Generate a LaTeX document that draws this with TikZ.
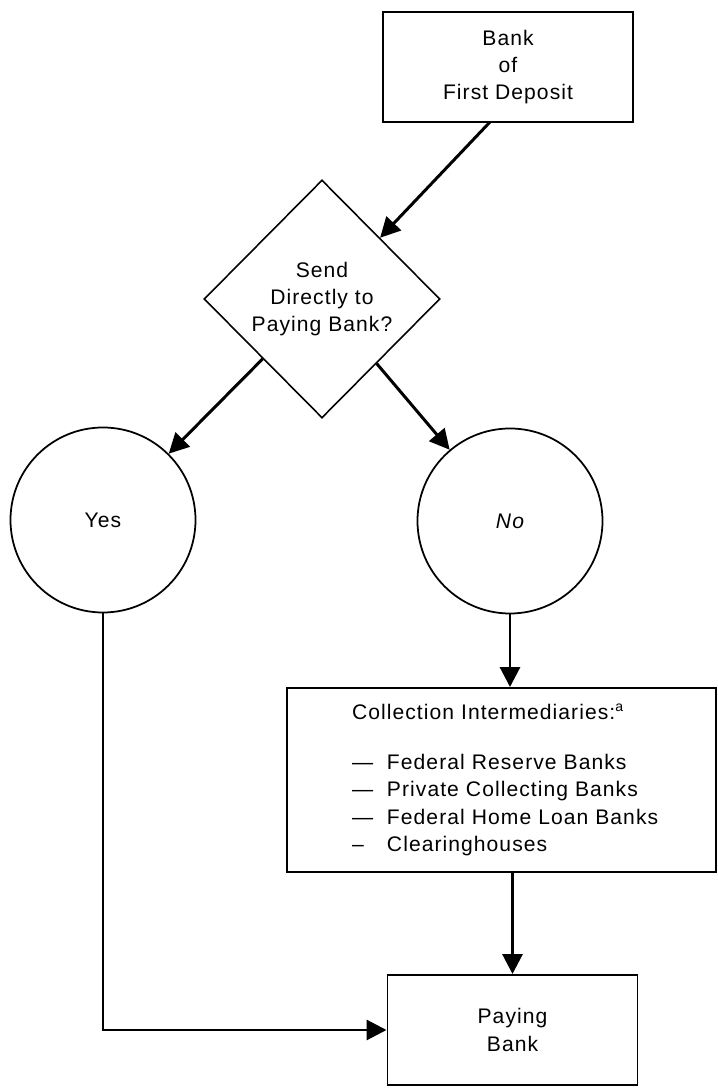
\documentclass[tikz,border=0pt]{standalone}
\usepackage{fontspec}
\setmainfont{Liberation Sans}[LetterSpace=5]
\usetikzlibrary{shapes.geometric, arrows.meta, positioning}
\begin{document}
\begin{tikzpicture}[x=1cm, y=1cm,
        font=\fontsize{12pt}{15.6pt}\selectfont,
        bankbox/.style={draw, line width=1.1pt, minimum width=5cm, minimum height=2.2cm, inner sep=0, align=center},
        answer/.style={draw, circle, line width=1pt, minimum size=3.7cm, inner sep=0},
        flow/.style={line width=1.7pt, -{Triangle[width=0.4cm, length=0.4cm]}}]
            \useasboundingbox (0, 0) rectangle (14.36, 21.78);
            \node[bankbox] (deposit) at (10.16, 20.44) {Bank\\of\\First Deposit};
            \node[draw, diamond, line width=0.9pt, minimum width=4.72cm, minimum height=4.76cm, inner sep=0, align=center] (ask) at (6.44, 15.8) {Send\\Directly to\\Paying Bank?};
            \node[answer] (yes) at (2.06, 11.38) {Yes};
            \node[answer] (no) at (10.2, 11.36) {\itshape No};
            \node[draw, line width=1.1pt, minimum width=8.58cm, minimum height=3.68cm, inner sep=0, text width=8.58cm, align=left] (collect) at (10.03, 6.18)
                {\hspace*{1.3cm}\begin{tabular}{@{}l@{}}
                    Collection Intermediaries:\textsuperscript{a}\\[0.46cm]
                    \makebox[0.7cm][l]{---}Federal Reserve Banks\\
                    \makebox[0.7cm][l]{---}Private Collecting Banks\\
                    \makebox[0.7cm][l]{---}Federal Home Loan Banks\\
                    \makebox[0.7cm][l]{--}Clearinghouses
                \end{tabular}};
            \node[bankbox] (paying) at (10.25, 1.18) {Paying\\Bank};
            \coordinate (depositout) at (9.8, 19.34);
            \draw[flow] (depositout) -- (ask);
            \draw[flow] (ask) -- (yes);
            \draw[flow] (ask) -- (no);
            \draw[flow] (no.south) -- (no.south |- collect.north);
            \draw[flow] (paying.north |- collect.south) -- (paying.north);
            \draw[flow] (yes.south) |- (paying.west);
        \end{tikzpicture}
\end{document}
